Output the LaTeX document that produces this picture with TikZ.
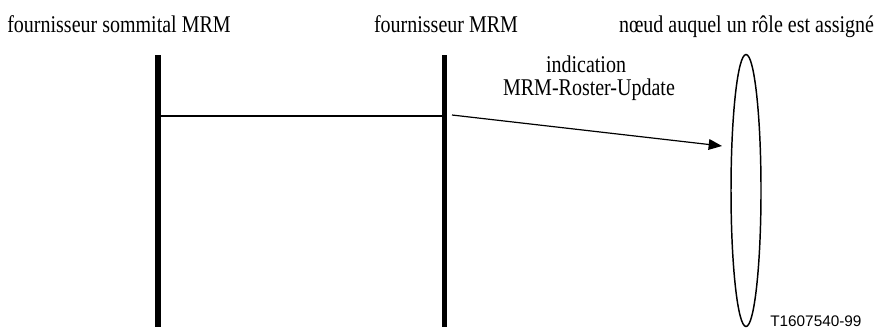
\documentclass[tikz,border=0pt]{standalone}
\usepackage{fontspec}
\setmainfont{Liberation Serif}
\newfontfamily\labelsans{Liberation Sans}
\usetikzlibrary{arrows.meta,shapes.geometric}
% tall, slightly narrow serif lettering
\newcommand{\tallword}[1]{\scalebox{1}[1.2]{#1}}
\begin{document}
\begin{tikzpicture}[x=0.75pt,y=-0.75pt,
  lifeline/.style={line width=4.1pt},
  caption/.style={font=\fontsize{15}{17}\selectfont, anchor=base, inner sep=0pt},
  role/.style={draw, ellipse, line width=1.1pt, minimum width=30*0.75pt, minimum height=272*0.75pt, inner sep=0pt},
  link/.style={line width=1.5pt},
  indic/.style={line width=0.9pt, -{Triangle[length=10pt,width=8pt]}}]
\useasboundingbox (0,0) rectangle (887,329);

% participants
\node[caption] (top) at (119,32) {\tallword{fournisseur sommital MRM}};
\node[caption] (prov) at (446,32) {\tallword{fournisseur MRM}};
\node[caption] (node) at (746.5,32) {\tallword{nœud auquel un rôle est assigné}};

% lifelines
\coordinate (topA) at (158,55);
\coordinate (topB) at (158,327);
\coordinate (provA) at (444.5,55);
\coordinate (provB) at (444.5,327);
\draw[lifeline] (topA) -- (topB);
\draw[lifeline] (provA) -- (provB);

% role-assigned node
\node[role] (roleNode) at (746,190.5) {};

% link between the two providers
\coordinate (linkL) at (158,115.7);
\coordinate (linkR) at (444.5,115.7);
\draw[link] (linkL) -- (linkR);

% indication message
\coordinate (msgS) at (452,115);
\coordinate (msgE) at (722,146);
\draw[indic] (msgS) -- (msgE);
\node[caption] (msgKind) at (586,72.3) {\tallword{indication}};
\node[caption] (msgName) at (589,95) {\tallword{MRM-Roster-Update}};

% figure reference
\node[font=\labelsans\fontsize{11.5}{13}\selectfont, anchor=base west, inner sep=0pt] (ref) at (770,326.5) {T1607540-99};
\end{tikzpicture}
\end{document}
